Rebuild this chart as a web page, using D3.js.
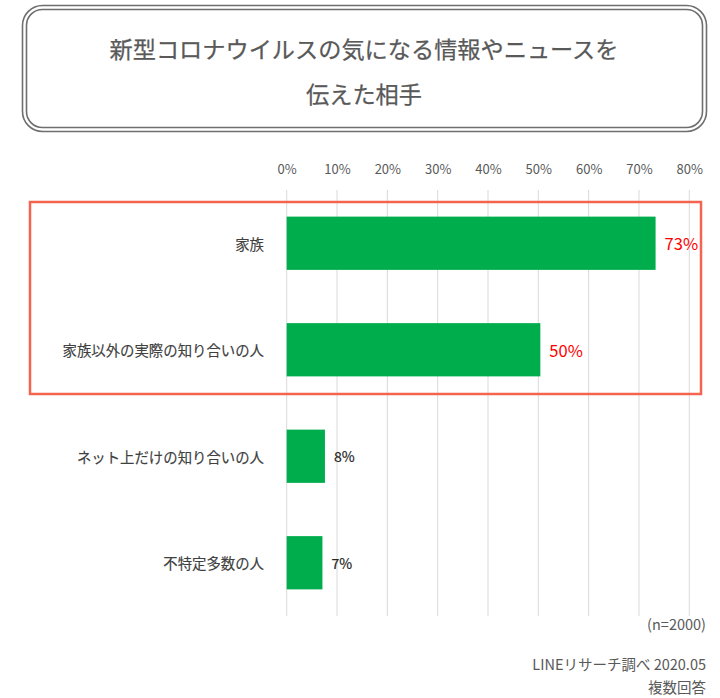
<!DOCTYPE html>
<html>
<head>
<meta charset="utf-8">
<script src="https://cdn.jsdelivr.net/npm/d3@7"></script>
<style>
    body { margin: 0; background: #fff; }
    text { font-family: "Noto Sans CJK JP", "Noto Sans", sans-serif; }
</style>
</head>
<body>
<div id="chart"></div>
<script>
// chart data
const categories = ["家族", "家族以外の実際の知り合いの人", "ネット上だけの知り合いの人", "不特定多数の人"]
const shares = [73.3, 50.4, 7.6, 7.1]
const highlighted = [true, true, false, false]
const ticks = [0, 10, 20, 30, 40, 50, 60, 70, 80]
const titleLines = ["新型コロナウイルスの気になる情報やニュースを", "伝えた相手"]
const notes = ["(n=2000)", "LINEリサーチ調べ 2020.05", "複数回答"]

const width = 720,
    height = 698;

const svg = d3.select("#chart")
    .append("svg")
    .attr("width", width)
    .attr("height", height)

// title box, double rounded border
svg.append("rect")
    .attr("x", 22.5).attr("y", 5.5)
    .attr("width", 684).attr("height", 126)
    .attr("rx", 20)
    .attr("fill", "none")
    .attr("stroke", "#6e6e6e")
    .attr("stroke-width", 1.6)
svg.append("rect")
    .attr("x", 26.5).attr("y", 9.5)
    .attr("width", 676).attr("height", 118)
    .attr("rx", 16)
    .attr("fill", "none")
    .attr("stroke", "#6e6e6e")
    .attr("stroke-width", 1.6)

// a thin stroke gives the "medium" look of the original font
svg.selectAll(".title")
    .data(titleLines)
    .enter().append("text")
    .attr("class", "title")
    .attr("x", 364)
    .attr("y", (d, i) => 48 + i * 45)
    .attr("text-anchor", "middle")
    .attr("dominant-baseline", "central")
    .attr("font-size", 23.2)
    .attr("fill", "#595959")
    .attr("stroke", "#595959")
    .attr("stroke-width", 0.25)
    .text(d => d)

const xScale = d3.scaleLinear().domain([0, 80]).range([286.7, 689.3])
const yScale = d3.scaleBand().domain(categories).range([190, 616])
    .paddingInner(0.5).paddingOuter(0.25)
const fmt = d => d3.format(".0f")(d) + "%"

// gridlines
svg.append("g")
    .selectAll("line")
    .data(ticks)
    .enter().append("line")
    .attr("x1", d => xScale(d)).attr("x2", d => xScale(d))
    .attr("y1", 190).attr("y2", 616)
    .attr("stroke", "#d9d9d9")
    .attr("stroke-width", 1)

// top axis labels
const xAxis = d3.axisTop(xScale).tickValues(ticks).tickFormat(fmt).tickSize(0).tickPadding(0)
const axisG = svg.append("g")
    .attr("transform", "translate(0,174)")
    .call(xAxis)
axisG.select(".domain").remove()
axisG.selectAll("text")
    .attr("font-family", "'Noto Sans', sans-serif")
    .attr("font-size", 13)
    .attr("fill", "#595959")

// bars
svg.selectAll(".bar")
    .data(shares)
    .enter().append("rect")
    .attr("class", "bar")
    .attr("x", xScale(0))
    .attr("y", (d, i) => yScale(categories[i]))
    .attr("width", d => xScale(d) - xScale(0))
    .attr("height", yScale.bandwidth())
    .attr("fill", "#00ad4d")

// category labels
svg.selectAll(".cat")
    .data(categories)
    .enter().append("text")
    .attr("class", "cat")
    .attr("x", 264)
    .attr("y", d => yScale(d) + yScale.bandwidth() / 2)
    .attr("text-anchor", "end")
    .attr("dominant-baseline", "central")
    .attr("font-size", 14.4)
    .attr("fill", "#404040")
    .attr("stroke", "#404040")
    .attr("stroke-width", 0.15)
    .text(d => d)

// value labels
svg.selectAll(".val")
    .data(shares)
    .enter().append("text")
    .attr("class", "val")
    .attr("x", d => xScale(d) + 9)
    .attr("y", (d, i) => yScale(categories[i]) + yScale.bandwidth() / 2)
    .attr("dominant-baseline", "central")
    .attr("font-family", "'Noto Sans', sans-serif")
    .attr("font-size", (d, i) => highlighted[i] ? 16.5 : 14)
    .attr("fill", (d, i) => highlighted[i] ? "#ff0000" : "#262626")
    .attr("stroke", (d, i) => highlighted[i] ? "none" : "#262626")
    .attr("stroke-width", 0.2)
    .text(fmt)

// highlight frame round the top two
svg.append("rect")
    .attr("x", 30).attr("y", 202)
    .attr("width", 671).attr("height", 192)
    .attr("fill", "none")
    .attr("stroke", "#f4644e")
    .attr("stroke-width", 2.5)

// notes
svg.selectAll(".note")
    .data(notes)
    .enter().append("text")
    .attr("class", "note")
    .attr("x", 706)
    .attr("y", (d, i) => [623, 663, 686][i])
    .attr("text-anchor", "end")
    .attr("dominant-baseline", "central")
    .attr("font-size", 14.5)
    .attr("fill", "#595959")
    .text(d => d)
</script>
</body>
</html>
